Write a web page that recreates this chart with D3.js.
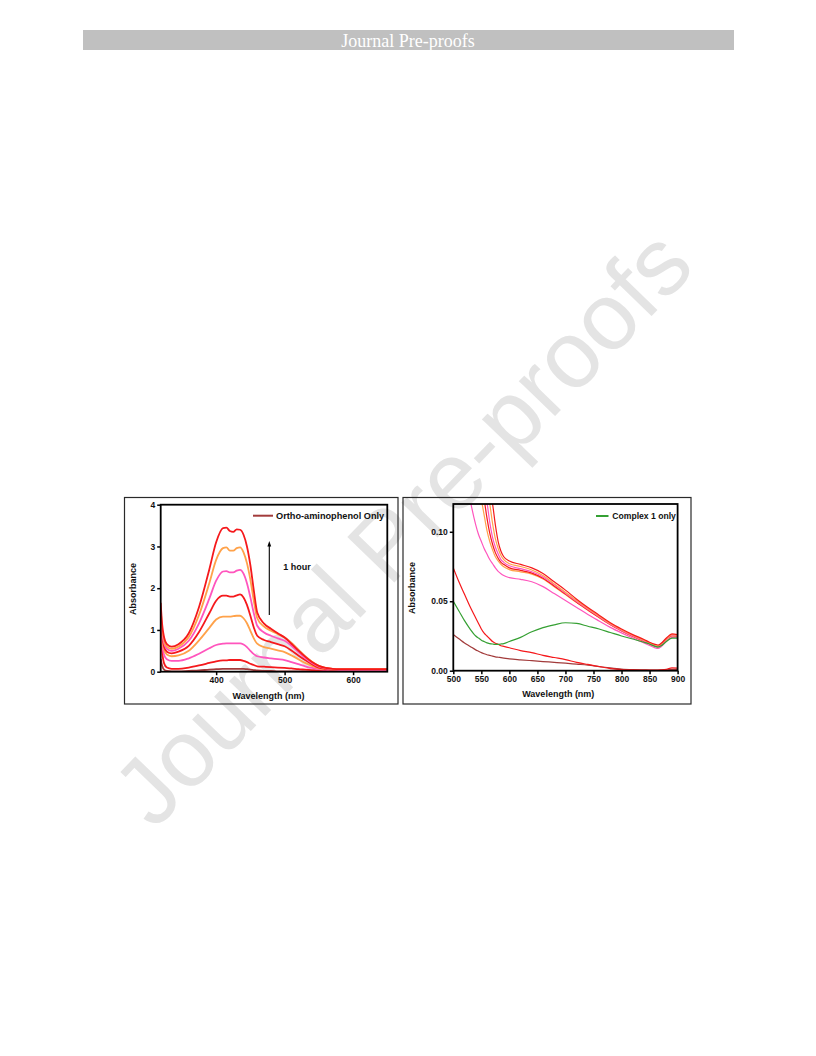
<!DOCTYPE html>
<html><head><meta charset="utf-8">
<script src="https://cdn.jsdelivr.net/npm/d3@7"></script>
<style>
html,body{margin:0;padding:0;background:#fff;}
svg{display:block;}
text{font-family:"Liberation Sans",Arial,sans-serif;}
</style></head>
<body>
<svg id="page" width="816" height="1056"></svg>
<script>
// ---------- DATA ----------
// Left panel: wavelength grid (nm) and absorbance per trace
const leftWl = [319,321,324,328,335,345,360,375,390,400,410,415,420,425,430,435,440,445,450,455,460,470,480,490,500,510,520,530,540,550,560,570,580,600,650];
const leftBrown1  = [0.30,0.15,0.05,0.02,0.01, 0.01,0.02,0.03,0.05,0.06, 0.07,0.07,0.07,0.07,0.07, 0.07,0.07,0.06,0.05,0.04, 0.03,0.02,0.02,0.01,0.01, 0.01,0.01,0.01,0.01,0.01, 0.01,0.01,0.01,0.01,0.01];
const leftRed2    = [1.00,0.50,0.20,0.10,0.07, 0.07,0.10,0.15,0.21,0.25, 0.27,0.27,0.28,0.28,0.28, 0.28,0.26,0.23,0.19,0.16, 0.13,0.12,0.11,0.10,0.09, 0.08,0.06,0.05,0.04,0.03, 0.03,0.03,0.03,0.03,0.03];
const leftPink3   = [1.10,0.70,0.40,0.30,0.26, 0.26,0.32,0.43,0.56,0.64, 0.67,0.68,0.68,0.68,0.68, 0.68,0.65,0.59,0.50,0.42, 0.37,0.34,0.32,0.30,0.28, 0.23,0.18,0.13,0.09,0.06, 0.05,0.04,0.04,0.04,0.04];
const leftOrange4 = [1.20,0.80,0.52,0.41,0.37, 0.39,0.50,0.75,1.05,1.25, 1.32,1.32,1.32,1.33,1.34, 1.34,1.28,1.16,0.98,0.80, 0.67,0.59,0.55,0.51,0.47, 0.39,0.30,0.21,0.14,0.08, 0.06,0.05,0.05,0.05,0.05];
const leftRed5    = [1.30,0.88,0.60,0.48,0.44, 0.48,0.62,0.95,1.40,1.70, 1.82,1.82,1.80,1.80,1.83, 1.85,1.78,1.60,1.34,1.06, 0.86,0.76,0.71,0.66,0.61, 0.51,0.39,0.28,0.18,0.10, 0.07,0.05,0.05,0.05,0.05];
const leftPink6   = [1.40,0.95,0.68,0.55,0.50, 0.55,0.74,1.16,1.75,2.18, 2.40,2.41,2.38,2.38,2.42, 2.44,2.35,2.12,1.78,1.40, 1.10,0.94,0.86,0.80,0.74, 0.62,0.47,0.33,0.21,0.12, 0.08,0.06,0.05,0.05,0.05];
const leftOrange7 = [1.50,1.05,0.75,0.60,0.55, 0.60,0.83,1.36,2.12,2.68, 2.96,2.98,2.90,2.90,2.96, 2.98,2.86,2.60,2.20,1.70, 1.28,1.08,0.98,0.90,0.82, 0.69,0.53,0.37,0.24,0.14, 0.09,0.07,0.06,0.06,0.06];
const leftRed8    = [1.65,1.15,0.82,0.66,0.60, 0.66,0.92,1.55,2.45,3.10, 3.44,3.45,3.37,3.35,3.41, 3.40,3.28,3.00,2.55,1.95, 1.42,1.15,1.03,0.92,0.82, 0.67,0.51,0.36,0.23,0.14, 0.09,0.07,0.06,0.06,0.06];
const leftXTicks = [400,500,600];
const leftYTicks = [0,1,2,3,4];
const leftLegend = "Ortho-aminophenol Only";
const arrowLabel = "1 hour";

// Right panel
const rightWl = [500,510,520,530,540,545,550,555,560,565,570,575,580,585,590,600,620,640,660,680,700,720,740,760,780,800,820,840,850,860,865,870,880,890,900];
const rightBrown1  = [0.026,0.023,0.020,0.0175,0.015,0.014,0.013,0.0122,0.0115,0.011,0.0105,0.010,0.0097,0.0094,0.0091,0.0085,0.0078,0.0072,0.0066,0.006,0.0054,0.0047,0.004,0.003,0.002,0.0012,0.0008,0.0006,0.0005,0.0005,0.0005,0.0005,0.0006,0.001,0.001];
const rightRed2    = [0.074,0.064,0.055,0.046,0.038,0.034,0.030,0.027,0.025,0.023,0.021,0.0198,0.019,0.018,0.0175,0.0165,0.0145,0.013,0.011,0.0095,0.008,0.006,0.0045,0.003,0.0015,0.0008,0.0006,0.0005,0.0005,0.0005,0.0005,0.0006,0.001,0.002,0.0018];
const rightPink3   = [0.20,0.17,0.145,0.123,0.105,0.098,0.093,0.088,0.084,0.080,0.077,0.074,0.0715,0.0698,0.0685,0.067,0.0658,0.064,0.0605,0.0555,0.0505,0.0455,0.0405,0.0358,0.0312,0.0272,0.0235,0.020,0.0182,0.0164,0.016,0.017,0.0212,0.024,0.0242];
const rightOrange4 = [0.26,0.22,0.19,0.165,0.142,0.132,0.123,0.112,0.101,0.093,0.087,0.082,0.079,0.0765,0.0748,0.0728,0.0712,0.0695,0.066,0.0605,0.0548,0.049,0.0435,0.0382,0.033,0.0286,0.0246,0.0211,0.0193,0.0176,0.0174,0.0184,0.0224,0.025,0.0248];
const rightRed5    = [0.27,0.23,0.195,0.17,0.148,0.138,0.130,0.123,0.110,0.099,0.091,0.085,0.081,0.078,0.0765,0.074,0.0722,0.0702,0.0665,0.061,0.0552,0.0493,0.0438,0.0384,0.0332,0.0288,0.0248,0.0213,0.0195,0.0178,0.0176,0.0186,0.0226,0.0253,0.025];
const rightPink6   = [0.28,0.24,0.20,0.175,0.152,0.143,0.136,0.129,0.121,0.107,0.096,0.089,0.084,0.080,0.078,0.0755,0.0735,0.0712,0.0675,0.0618,0.0558,0.0498,0.0442,0.0388,0.0335,0.029,0.025,0.0215,0.0197,0.018,0.0177,0.0188,0.0228,0.0255,0.0252];
const rightOrange7 = [0.29,0.25,0.21,0.18,0.158,0.149,0.142,0.135,0.128,0.120,0.106,0.095,0.088,0.083,0.080,0.077,0.075,0.0725,0.0685,0.0625,0.0565,0.0505,0.0448,0.0393,0.034,0.0295,0.0255,0.022,0.020,0.0185,0.018,0.019,0.023,0.026,0.0255];
const rightRed8    = [0.30,0.26,0.22,0.19,0.165,0.155,0.148,0.142,0.136,0.129,0.120,0.105,0.093,0.086,0.082,0.079,0.0765,0.074,0.070,0.064,0.058,0.0515,0.0455,0.040,0.0345,0.030,0.026,0.0225,0.0205,0.019,0.0185,0.0195,0.0235,0.0265,0.026];
const rightGreen   = [0.050,0.043,0.036,0.030,0.025,0.0235,0.022,0.021,0.020,0.0195,0.0192,0.019,0.019,0.0192,0.0195,0.021,0.024,0.028,0.031,0.033,0.0345,0.034,0.032,0.030,0.0275,0.025,0.0228,0.0205,0.0192,0.0175,0.017,0.0178,0.021,0.0235,0.0235];
const rightXTicks = [500,550,600,650,700,750,800,850,900];
const rightYTicks = [0,0.05,0.10];
const rightLegend = "Complex 1 only";

const headerText = "Journal Pre-proofs";
const watermarkText = "Journal Pre-proofs";
const xTitle = "Wavelength (nm)";
const yTitle = "Absorbance";

// ---------- STYLE ----------
const C = {red:"#f5191c", orange:"#ffa24a", pink:"#ff55bd", brown:"#a23b3b", green:"#35a033"};

const svg = d3.select("#page");

// header bar
svg.append("rect").attr("x",83).attr("y",30).attr("width",651).attr("height",20).attr("fill","#c0c0c0");
svg.append("text").attr("x",408).attr("y",47).attr("text-anchor","middle")
  .style("font-family","'Liberation Serif','Times New Roman',serif").style("font-size","18px")
  .attr("fill","#ffffff").text(headerText);

// watermark
svg.append("text").attr("transform","translate(402,527) rotate(-46)")
  .attr("text-anchor","middle").attr("dominant-baseline","central")
  .style("font-family","'Liberation Sans',Arial,sans-serif").style("font-size","95px")
  .attr("fill","#e4e4e4").text(watermarkText);

function panel(cfg){
  const g = svg.append("g");
  // outer frame
  g.append("rect").attr("x",cfg.frame[0]).attr("y",cfg.frame[1])
    .attr("width",cfg.frame[2]-cfg.frame[0]).attr("height",cfg.frame[3]-cfg.frame[1])
    .attr("fill","none").attr("stroke","#2a2a2a").attr("stroke-width",1.2);
  const x = d3.scaleLinear().domain(cfg.xDomain).range([cfg.x0,cfg.x1]);
  const y = d3.scaleLinear().domain(cfg.yDomain).range([cfg.y0,cfg.y1]);
  const id = "clip"+cfg.name;
  g.append("clipPath").attr("id",id).append("rect")
    .attr("x",cfg.x0).attr("y",cfg.y1).attr("width",cfg.x1-cfg.x0).attr("height",cfg.y0-cfg.y1);
  const line = d3.line().x(d=>x(d[0])).y(d=>y(d[1])).curve(d3.curveMonotoneX);
  const lg = g.append("g").attr("clip-path",`url(#${id})`);
  cfg.series.forEach(s=>{
    lg.append("path").datum(cfg.wl.map((w,i)=>[w,s.v[i]]))
      .attr("d",line).attr("fill","none").attr("stroke",s.c).attr("stroke-width",cfg.lw)
      .attr("stroke-linejoin","round");
  });
  // plot box
  g.append("rect").attr("x",cfg.x0).attr("y",cfg.y1).attr("width",cfg.x1-cfg.x0).attr("height",cfg.y0-cfg.y1)
    .attr("fill","none").attr("stroke","#000").attr("stroke-width",1.8);
  // axes
  const xa = g.append("g").attr("transform",`translate(0,${cfg.y0})`)
    .call(d3.axisBottom(x).tickValues(cfg.xTicks).tickSize(3.5).tickPadding(2).tickFormat(d3.format("d")));
  const ya = g.append("g").attr("transform",`translate(${cfg.x0},0)`)
    .call(d3.axisLeft(y).tickValues(cfg.yTicks).tickSize(3.5).tickPadding(2).tickFormat(cfg.yFmt));
  [xa,ya].forEach(a=>{
    a.select(".domain").remove();
    a.selectAll(".tick line").attr("stroke","#000").attr("stroke-width",1.5);
    a.selectAll("text").attr("fill","#111").style("font-size","8.5px").style("font-weight","bold")
      .style("font-family","'Liberation Sans',Arial,sans-serif");
  });
  // titles
  g.append("text").attr("x",cfg.xtPos[0]).attr("y",cfg.xtPos[1]).attr("text-anchor","middle")
    .style("font-size","9px").style("font-weight","bold").attr("fill","#111").text(xTitle);
  g.append("text").attr("transform",`translate(${cfg.ytPos[0]},${cfg.ytPos[1]}) rotate(-90)`)
    .attr("text-anchor","middle").style("font-size","9px").style("font-weight","bold").attr("fill","#111").text(yTitle);
  // legend
  g.append("line").attr("x1",cfg.leg.x1).attr("x2",cfg.leg.x2).attr("y1",cfg.leg.y).attr("y2",cfg.leg.y)
    .attr("stroke",cfg.leg.c).attr("stroke-width",2);
  g.append("text").attr("x",cfg.leg.tx).attr("y",cfg.leg.y+3.2)
    .style("font-size",cfg.leg.fs).style("font-weight","bold").attr("fill","#111").text(cfg.leg.text);
  return {g,x,y};
}

const L = panel({
  name:"L", frame:[124.5,497.5,398,704],
  x0:160.7, x1:387.3, y0:671.7, y1:504.7,
  xDomain:[319,650], yDomain:[0,4],
  wl:leftWl, lw:1.8,
  series:[
    {v:leftBrown1,c:C.brown},{v:leftRed2,c:C.red},{v:leftPink3,c:C.pink},{v:leftOrange4,c:C.orange},
    {v:leftRed5,c:C.red},{v:leftPink6,c:C.pink},{v:leftOrange7,c:C.orange},{v:leftRed8,c:C.red}
  ],
  xTicks:leftXTicks, yTicks:leftYTicks, yFmt:d3.format("d"),
  xtPos:[268.5,699], ytPos:[136,589],
  leg:{x1:253,x2:273,y:515.7,c:C.brown,tx:276,text:leftLegend,fs:"9.2px"}
});
// arrow "1 hour"
L.g.append("line").attr("x1",269.3).attr("x2",269.3).attr("y1",615).attr("y2",545)
  .attr("stroke","#000").attr("stroke-width",1.1);
L.g.append("path").attr("d","M269.3,541 L267.4,546.5 L271.2,546.5 Z").attr("fill","#000");
L.g.append("text").attr("x",283.3).attr("y",570).style("font-size","9px").style("font-weight","bold")
  .attr("fill","#111").text(arrowLabel);

const R = panel({
  name:"R", frame:[403,497.5,691,704],
  x0:453.3, x1:677.6, y0:670.7, y1:504,
  xDomain:[500,900], yDomain:[0,0.12],
  wl:rightWl, lw:1.2,
  series:[
    {v:rightBrown1,c:C.brown},{v:rightRed2,c:C.red},{v:rightPink3,c:C.pink},{v:rightOrange4,c:C.orange},
    {v:rightRed5,c:C.red},{v:rightPink6,c:C.pink},{v:rightOrange7,c:C.orange},{v:rightRed8,c:C.red},
    {v:rightGreen,c:C.green}
  ],
  xTicks:rightXTicks, yTicks:rightYTicks, yFmt:d3.format(".2f"),
  xtPos:[558.3,697], ytPos:[415,588],
  leg:{x1:596,x2:608.5,y:516,c:C.green,tx:612.3,text:rightLegend,fs:"8.6px"}
});
</script>
</body></html>
